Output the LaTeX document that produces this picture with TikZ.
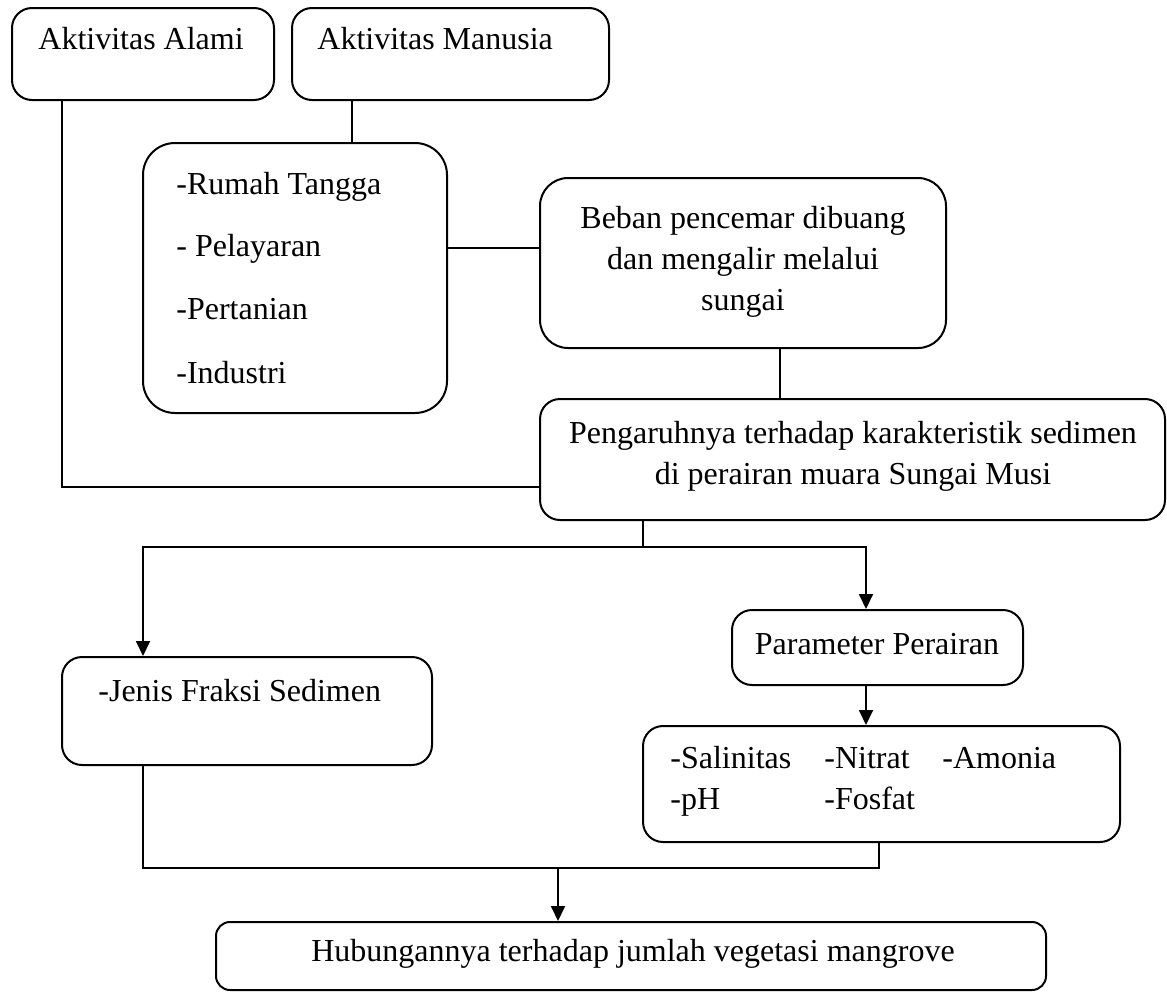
\documentclass[tikz,border=0pt]{standalone}
\usepackage{fontspec}
\setmainfont{Liberation Serif}
\usetikzlibrary{arrows.meta}

\tikzset{
  box/.style={draw, line width=1pt, rounded corners=10pt, inner sep=0pt},
  txt/.style={inner sep=0pt, font=\fontsize{16}{20.5}\selectfont, text height=0.86em, text depth=0.2em},
  link/.style={line width=0.9pt},
  arrow/.style={line width=0.9pt, -{Triangle[length=7.5pt,width=7pt]}}
}

\begin{document}
\begin{tikzpicture}[x=0.5pt,y=-0.5pt]
    \useasboundingbox (0,0) rectangle (1167,996);
    % boxes
    \node[box, minimum width=131pt, minimum height=46pt] (alami) at (143,54) {};
    \node[box, minimum width=158.5pt, minimum height=46pt] (manusia) at (450.5,54) {};
    \node[box, rounded corners=16pt, minimum width=152pt, minimum height=135pt] (sumber) at (295,278) {};
    \node[box, rounded corners=14pt, minimum width=203pt, minimum height=85pt] (beban) at (743,263) {};
    \node[box, minimum width=312.5pt, minimum height=60.5pt] (pengaruh) at (852.5,459.5) {};
    \node[box, minimum width=185pt, minimum height=54pt] (jenis) at (247,711) {};
    \node[box, minimum width=145.5pt, minimum height=37.5pt] (param) at (877.5,647.5) {};
    \node[box, minimum width=238.5pt, minimum height=58pt] (kualitas) at (881.5,784) {};
    \node[box, rounded corners=7pt, minimum width=415pt, minimum height=34pt] (hubungan) at (631,956) {};
    % texts
    \node[txt, anchor=west] (t-alami) at (38,43) {Aktivitas Alami};
    \node[txt, anchor=west] (t-manusia) at (317,43) {Aktivitas Manusia};
    \node[txt, anchor=west] (t-rumah) at (176,188) {-Rumah Tangga};
    \node[txt, anchor=west] (t-layar) at (176,250) {- Pelayaran};
    \node[txt, anchor=west] (t-tani) at (176,313) {-Pertanian};
    \node[txt, anchor=west] (t-industri) at (176,377) {-Industri};
    \node[txt, align=center, text height=, text depth=] (t-beban) at (743,262) {Beban pencemar dibuang\\dan mengalir melalui\\sungai};
    \node[txt, align=center, text height=, text depth=] (t-pengaruh) at (853,456) {Pengaruhnya terhadap karakteristik sedimen\\di perairan muara Sungai Musi};
    \node[txt, anchor=west] (t-jenis) at (98,695) {-Jenis Fraksi Sedimen};
    \node[txt] (t-param) at (877,648) {Parameter Perairan};
    \node[txt, anchor=west] (t-sal) at (670,762) {-Salinitas};
    \node[txt, anchor=west] (t-nitrat) at (824,762) {-Nitrat};
    \node[txt, anchor=west] (t-amonia) at (942,762) {-Amonia};
    \node[txt, anchor=west] (t-ph) at (670,803) {-pH};
    \node[txt, anchor=west] (t-fosfat) at (824,803) {-Fosfat};
    \node[txt] (t-hubungan) at (633,955) {Hubungannya terhadap jumlah vegetasi mangrove};
    % connectors
    \draw[link] (alami.south -| 62,0) |- (pengaruh.west |- 0,487);
    \draw[link] (manusia.south -| 352,0) -- (sumber.north -| 352,0);
    \draw[link] (sumber.east |- 0,248) -- (beban.west |- 0,248);
    \draw[link] (beban.south -| 780,0) -- (pengaruh.north -| 780,0);
    \coordinate (split) at (643,547);
    \draw[link] (pengaruh.south -| split) -- (split);
    \draw[arrow] (split) -| (jenis.north -| 143,0);
    \draw[arrow] (split) -| (param.north -| 866,0);
    \draw[arrow] (param.south -| 866,0) -- (kualitas.north -| 866,0);
    \coordinate (merge) at (558,868);
    \draw[link, line width=1.3pt] (jenis.south -| 143,0) |- (merge) -| (kualitas.south -| 879,0);
    \draw[arrow] (merge) -- (hubungan.north -| merge);
\end{tikzpicture}
\end{document}
